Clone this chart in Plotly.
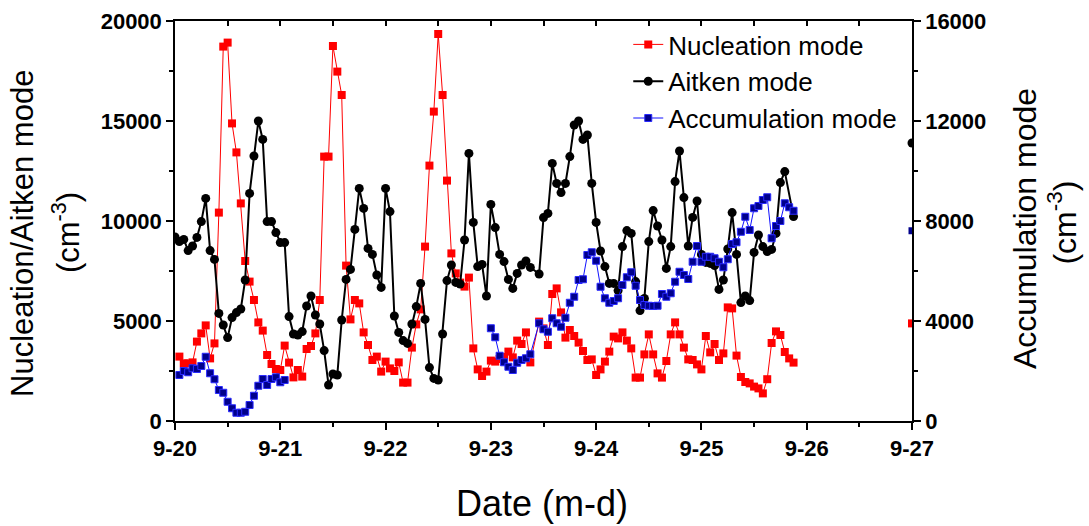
import pandas as pd
import plotly.graph_objects as go

# hourly samples, hours counted from 9-20 00:00
nuc_hours = list(range(1, 82)) + list(range(83, 142))
nuc_values = [
    3220, 2880, 2880, 2930, 3970, 4380, 4780, 3130, 3880, 10420,
    18720, 18920, 14880, 13430, 10880, 8000, 6970, 6050, 4930, 4520,
    3300, 2850, 2600, 2550, 3770, 2920, 2180, 2550, 2220, 3600,
    3750, 4380, 6050, 13220, 13220, 18750, 17470, 16300, 7770, 5080,
    6050, 5880, 4430, 3800, 3050, 3220, 2470, 2970, 2630, 2500,
    2930, 1920, 1920, 3670, 4830, 5580, 8720, 12770, 15470, 19350,
    16300, 12020, 8380, 7380, 6920, 6720, 7170, 3630, 2580, 2250,
    2470, 3020, 2970, 3100, 3200, 3470, 3180, 4020, 3850, 4430,
    2930,
    4970, 4630, 3800, 6350, 6630, 5430, 4170, 4550, 4250, 3920,
    3500, 3050, 3080, 2300, 2580, 2970, 3470, 4220, 4130, 4430,
    4020, 3630, 2170, 2170, 3330, 4330, 3330, 2380, 2170, 3000,
    4330, 4930, 4330, 3670, 3080, 3050, 2830, 2580, 4250, 3430,
    3850, 3050, 3380, 5680, 5630, 3270, 2200, 1950, 1880, 1720,
    1630, 1380, 2090, 3900, 4480, 4300, 3450, 3130, 2920,
]

ait_hours = list(range(0, 82)) + list(range(83, 140)) + [141]
ait_values = [
    9200, 8970, 9080, 8520, 8750, 9180, 9970, 11130, 8520, 8080,
    5380, 4800, 4170, 5170, 5420, 5600, 7050, 11380, 13250, 15000,
    14080, 9970, 9970, 9420, 8920, 8920, 5220, 4350, 4300, 4470,
    5750, 6250, 5300, 4850, 3520, 1800, 2350, 2300, 5050, 7080,
    7580, 9580, 11630, 10630, 8630, 8330, 7300, 6680, 11630, 10470,
    5250, 4430, 4020, 3880, 4850, 5720, 6880, 5080, 2670, 2130,
    2050, 4350, 7020, 7800, 6930, 6850, 9050, 13380, 9930, 7720,
    7830, 6250, 10830, 9670, 8330, 7970, 7080, 6630, 7380, 7800,
    8000, 7680,
    7350, 10170, 10380, 12880, 11880, 11420, 11880, 13220, 14800, 15000,
    14080, 14300, 11880, 9930, 8500, 7720, 6880, 6880, 6520, 8720,
    9520, 9380, 6970, 5520, 6130, 8970, 10520, 9750, 9050, 7630,
    8720, 11970, 13500, 11170, 8750, 10180, 11000, 8330, 7930, 7880,
    7770, 6580, 7050, 8600, 10420, 8330, 5920, 6250, 6020, 8430,
    9300, 8720, 8470, 8580, 9380, 11920, 12470,
    10220,
]

acc_hours_a = list(range(1, 26))
acc_values_a = [
    1840, 2000, 1950, 2110, 2080, 2200, 2570, 1910, 1670, 1240,
    1130, 770, 510, 330, 330, 370, 640, 1010, 1410, 1680,
    1440, 1680, 1750, 1550, 1640,
]
acc_hours_b = list(range(72, 82)) + list(range(83, 142))
acc_values_b = [
    3710, 3350, 2610, 2350, 2170, 2040, 2330, 2440, 2510, 2670,
    3910, 3670, 3570, 4110, 3910, 3770, 4130, 4730, 4970, 5640,
    5670, 6640, 6750, 6410, 5370, 4910, 4730, 4800, 4910, 5440,
    5750, 5950, 5410, 4840, 4640, 4610, 4600, 4610, 5080, 4970,
    5110, 5570, 5970, 5840, 5680, 6370, 7000, 6370, 6570, 6570,
    6510, 6370, 6150, 6470, 7080, 7150, 7570, 8170, 7640, 8510,
    8600, 8840, 8950, 7310, 7800, 8000, 8710, 8550, 8410,
]

# lone points sitting on the 9-27 axis
end_hour = 168
nuc_end = 4880
ait_end = 13900
acc_end = 7610

day_labels = ["9-20", "9-21", "9-22", "9-23", "9-24", "9-25", "9-26", "9-27"]

base = pd.Timestamp("2007-09-20")


def to_time(hours):
    return [None if h is None else base + pd.Timedelta(hours=h) for h in hours]


FONT = "Arial, Liberation Sans, sans-serif"
red = "#ff0000"
navy = "#00008b"

fig = go.Figure()
fig.add_trace(go.Scatter(
    x=to_time(nuc_hours), y=nuc_values, name="Nucleation mode",
    mode="lines+markers", line=dict(color=red, width=1),
    marker=dict(symbol="square", size=8, color=red),
))
fig.add_trace(go.Scatter(
    x=to_time(ait_hours), y=ait_values, name="Aitken mode",
    mode="lines+markers", line=dict(color="black", width=2),
    marker=dict(symbol="circle", size=9, color="black"),
))
fig.add_trace(go.Scatter(
    x=to_time(acc_hours_a + [None] + acc_hours_b),
    y=acc_values_a + [None] + acc_values_b,
    name="Accumulation mode", yaxis="y2",
    mode="lines+markers", line=dict(color="#1010ff", width=1),
    marker=dict(symbol="square", size=7, color=navy, line=dict(color="#2a2aff", width=1)),
))
fig.add_trace(go.Scatter(
    x=to_time([end_hour]), y=[nuc_end], mode="markers", showlegend=False,
    marker=dict(symbol="square", size=8, color=red),
))
fig.add_trace(go.Scatter(
    x=to_time([end_hour]), y=[ait_end], mode="markers", showlegend=False,
    marker=dict(symbol="circle", size=9, color="black"),
))
fig.add_trace(go.Scatter(
    x=to_time([end_hour]), y=[acc_end], mode="markers", showlegend=False, yaxis="y2",
    marker=dict(symbol="square", size=7, color=navy),
))
# empty trace so the top axis (inner ticks) gets drawn
fig.add_trace(go.Scatter(
    x=to_time([0]), y=[None], xaxis="x2", mode="markers",
    showlegend=False, hoverinfo="skip",
))

tick_font = dict(family=FONT, size=22, color="black", weight="bold")
day_ticks = [base + pd.Timedelta(days=i) for i in range(len(day_labels))]

fig.update_layout(
    width=1089, height=526,
    margin=dict(l=175, r=177, t=21, b=105),
    plot_bgcolor="white", paper_bgcolor="white",
    font=dict(family=FONT, color="black"),
    xaxis=dict(
        range=[day_ticks[0], day_ticks[-1]], automargin=False,
        tickvals=day_ticks, ticktext=day_labels,
        ticks="outside", ticklen=7, tickwidth=1.5, tickcolor="black",
        minor=dict(dtick=43200000, ticks="outside", ticklen=4, tickwidth=1.5, tickcolor="black"),
        showline=True, linecolor="black", linewidth=1.5,
        showgrid=False, zeroline=False, tickfont=tick_font,
    ),
    xaxis2=dict(
        overlaying="x", side="top", range=[day_ticks[0], day_ticks[-1]], automargin=False,
        dtick=43200000, tick0=day_ticks[0], ticks="inside", ticklen=5, tickwidth=1.5,
        tickcolor="black", showticklabels=False,
        showline=True, linecolor="black", linewidth=1.5, showgrid=False,
    ),
    yaxis=dict(
        range=[0, 20000], dtick=5000, tickformat="d", automargin=False,
        ticks="outside", ticklen=7, tickwidth=1.5, tickcolor="black",
        minor=dict(dtick=2500, ticks="outside", ticklen=4, tickwidth=1.5, tickcolor="black"),
        showline=True, linecolor="black", linewidth=1.5,
        showgrid=False, zeroline=False, tickfont=tick_font,
    ),
    yaxis2=dict(
        overlaying="y", side="right", range=[0, 16000], dtick=4000, tickformat="d", automargin=False,
        ticks="outside", ticklen=7, tickwidth=1.5, tickcolor="black",
        minor=dict(dtick=2000, ticks="outside", ticklen=4, tickwidth=1.5, tickcolor="black"),
        showline=True, linecolor="black", linewidth=1.5,
        showgrid=False, zeroline=False, tickfont=tick_font,
    ),
    legend=dict(
        x=0.615, y=1.0, xanchor="left", yanchor="top",
        bgcolor="rgba(0,0,0,0)", font=dict(family=FONT, size=26, color="black"),
        tracegroupgap=0,
    ),
)

# axis titles as annotations, so each line sits where the original has it
title_lines = [
    ("Date (m-d)", 0.498, -0.205, 0, 36),
    ("Nucleation/Aitken mode", -0.2076, 0.47, -90, 31),
    ("(cm<sup>-3</sup>)", -0.148, 0.472, -90, 31),
    ("Accumulation mode", 1.1533, 0.4825, -90, 32),
    ("(cm<sup>-3</sup>)", 1.204, 0.497, -90, 32),
]
for text, x, y, angle, size in title_lines:
    fig.add_annotation(
        text=text, x=x, y=y, xref="paper", yref="paper",
        xanchor="center", yanchor="middle", textangle=angle, showarrow=False,
        font=dict(family=FONT, size=size, color="black"),
    )

# drop the default 8px page margin so the figure fills the window exactly
fig.write_html(
    "out.html",
    config={"displayModeBar": False},
    post_script="document.body.style.margin='0';",
)
